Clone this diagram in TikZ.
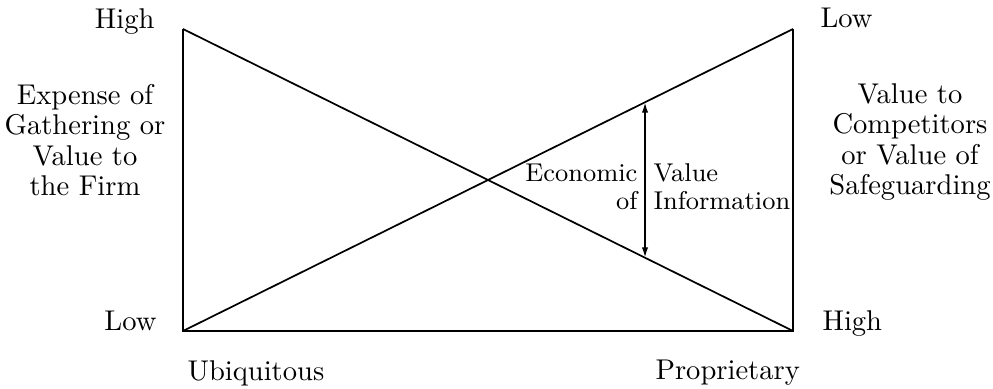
\documentclass[tikz,border=0pt]{standalone}
\usetikzlibrary{arrows.meta,calc}
\begin{document}
\begin{tikzpicture}[x=0.35pt,y=-0.35pt,
  frame/.style={line width=0.6pt,line join=miter},
  lbl/.style={inner sep=0pt,font=\fontsize{10}{10.6}\selectfont},
  small/.style={inner sep=0pt,font=\fontsize{9}{9.8}\selectfont},
  block/.style={lbl,align=center},
  gap/.style={<->,line width=0.6pt,>={Latex[length=3.6pt,width=2.2pt]}}]
\useasboundingbox (0,0) rectangle (993,389);
% corners of the plot
\coordinate (tl) at (183,29);
\coordinate (bl) at (183,331);
\coordinate (br) at (793,331);
\coordinate (tr) at (793,29);
% axes frame and the two crossing lines
\draw[frame] (tl) -- (bl) -- (br) -- (tr);
\draw[frame] (tl) -- (br);
\draw[frame] (bl) -- (tr);
% vertical gap between the lines
\coordinate (gtop) at ($(bl)!0.7574!(tr)$);
\coordinate (gbot) at ($(tl)!0.7574!(br)$);
\draw[gap] (gtop) -- (gbot);
% end labels of the left axis
\node[lbl,anchor=base east] (lhigh) at (155,29) {High};
\node[lbl,anchor=base east] (llow) at (157,331) {Low};
% end labels of the right axis
\node[lbl,anchor=base west] (rlow) at (820,28) {Low};
\node[lbl,anchor=base west] (rhigh) at (822,331) {High};
% axis titles
\node[block] (ltitle) at (85,140) {Expense of\\Gathering or\\Value to\\the Firm};
\node[block] (rtitle) at (910,142) {Value to\\Competitors\\or Value of\\Safeguarding};
% bottom labels
\node[lbl,anchor=base west] (ubiq) at (187,381) {Ubiquitous};
\node[lbl,anchor=base west] (prop) at (655,380) {Proprietary};
% label of the gap, split by the arrow
\node[small,align=right,anchor=east] (evl) at (638,187) {Economic\\of};
\node[small,align=left,anchor=west] (evr) at (653,187) {Value\\Information};
\end{tikzpicture}
\end{document}
